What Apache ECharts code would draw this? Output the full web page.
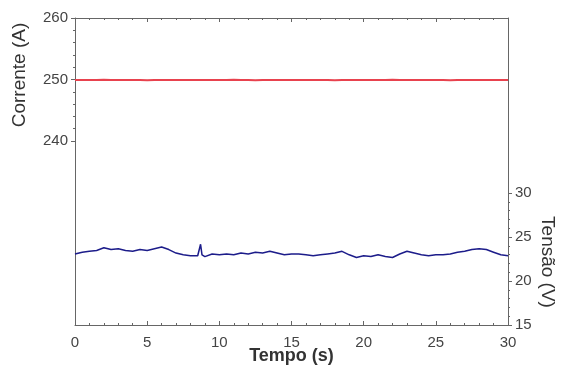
<!DOCTYPE html>
<html>
<head>
<meta charset="utf-8">
<script src="https://cdn.jsdelivr.net/npm/echarts@6/dist/echarts.min.js"></script>
<style>
  html, body { margin: 0; padding: 0; background: #fff; }
  #main { width: 563px; height: 367px; }
</style>
</head>
<body>
<div id="main"></div>
<script>
// tempo (s)
const tempo = [0, 0.5, 1, 1.5, 2, 2.5, 3, 3.5, 4, 4.5, 5, 5.5, 6, 6.5, 7, 7.5, 8, 8.5, 8.7, 8.8, 9,
  9.5, 10, 10.5, 11, 11.5, 12, 12.5, 13, 13.5, 14, 14.5, 15, 15.5, 16, 16.5, 17, 17.5, 18, 18.5,
  19, 19.5, 20, 20.5, 21, 21.5, 22, 22.5, 23, 23.5, 24, 24.5, 25, 25.5, 26, 26.5, 27, 27.5, 28,
  28.5, 29, 29.5, 30];
// tensão (V)
const tensao = [23.1, 23.3, 23.4, 23.5, 23.8, 23.6, 23.7, 23.5, 23.4, 23.6, 23.5, 23.7, 23.9, 23.6, 23.2, 23.0, 22.9, 22.9, 24.2, 23.0, 22.8,
  23.1, 23.0, 23.1, 23.0, 23.2, 23.1, 23.3, 23.2, 23.4, 23.2, 23.0, 23.1, 23.1, 23.0, 22.9, 23.0, 23.1, 23.2, 23.4,
  23.0, 22.7, 22.9, 22.8, 23.0, 22.8, 22.7, 23.1, 23.4, 23.2, 23.0, 22.9, 23.0, 23.0, 23.1, 23.3, 23.4, 23.6, 23.7,
  23.6, 23.3, 23.0, 22.9];
// corrente (A)
const corrente = [249.9, 249.9, 249.9, 249.9, 249.95, 249.9, 249.9, 249.9, 249.9, 249.9, 249.85, 249.9, 249.9, 249.9, 249.9, 249.9, 249.9, 249.9, 249.9, 249.9, 249.9,
  249.9, 249.9, 249.9, 249.95, 249.9, 249.9, 249.85, 249.9, 249.9, 249.9, 249.9, 249.9, 249.9, 249.9, 249.9, 249.9, 249.9, 249.85, 249.9,
  249.9, 249.9, 249.9, 249.9, 249.9, 249.9, 249.95, 249.9, 249.9, 249.9, 249.9, 249.9, 249.9, 249.9, 249.85, 249.9, 249.9, 249.9, 249.9,
  249.9, 249.9, 249.9, 249.9];

const correnteTicks = [240, 260];
const tensaoTicks = [15, 30];

const axisColor = '#666';
const font = 'Liberation Sans';
const labelStyle = { color: '#444', fontSize: 15, fontFamily: font };

var chart = echarts.init(document.getElementById('main'));
chart.setOption({
  animation: false,
  grid: [
    { left: 75, right: 55, top: 18, bottom: 42, outerBoundsMode: 'none' },
    { left: 75, right: 55, top: 18, height: 123, outerBoundsMode: 'none' },
    { left: 75, right: 55, top: 193, bottom: 42, outerBoundsMode: 'none' }
  ],
  xAxis: [
    {
      gridIndex: 0, type: 'value', min: 0, max: 30, interval: 5,
      axisLine: { onZero: false, lineStyle: { color: axisColor, width: 1 } },
      axisTick: { inside: true, length: 4, lineStyle: { color: axisColor } },
      minorTick: { show: true, splitNumber: 5, length: 2, lineStyle: { color: axisColor } },
      axisLabel: Object.assign({ margin: 10 }, labelStyle),
      splitLine: { show: false },
      name: 'Tempo (s)', nameLocation: 'middle', nameGap: 22, nameMoveOverlap: false,
      nameTextStyle: { color: '#333', fontSize: 18, fontFamily: font, fontWeight: 'bold', verticalAlign: 'top' }
    },
    {
      gridIndex: 0, type: 'value', position: 'top', min: 0, max: 30, interval: 5,
      axisLine: { onZero: false, lineStyle: { color: axisColor, width: 1 } },
      axisTick: { inside: true, length: 4, lineStyle: { color: axisColor } },
      minorTick: { show: true, splitNumber: 5, length: 2, lineStyle: { color: axisColor } },
      axisLabel: { show: false }, splitLine: { show: false }
    },
    { gridIndex: 1, type: 'value', min: 0, max: 30, show: false },
    { gridIndex: 2, type: 'value', min: 0, max: 30, show: false }
  ],
  yAxis: [
    {
      gridIndex: 0, type: 'value', min: 210, max: 260, position: 'left',
      axisLine: { show: true, onZero: false, lineStyle: { color: axisColor, width: 1 } },
      axisTick: { show: false }, axisLabel: { show: false }, splitLine: { show: false }
    },
    {
      gridIndex: 0, type: 'value', min: 15, max: 50, position: 'right',
      axisLine: { show: true, onZero: false, lineStyle: { color: axisColor, width: 1 } },
      axisTick: { show: false }, axisLabel: { show: false }, splitLine: { show: false }
    },
    {
      gridIndex: 1, type: 'value', min: correnteTicks[0], max: correnteTicks[1], interval: 10, position: 'left',
      axisLine: { show: false, onZero: false },
      axisTick: { show: true, length: 4, lineStyle: { color: axisColor } },
      minorTick: { show: true, splitNumber: 5, length: 2, lineStyle: { color: axisColor } },
      axisLabel: Object.assign({ margin: 7 }, labelStyle),
      splitLine: { show: false }
    },
    {
      gridIndex: 2, type: 'value', min: tensaoTicks[0], max: tensaoTicks[1], interval: 5, position: 'right',
      axisLine: { show: false, onZero: false },
      axisTick: { show: true, length: 4, lineStyle: { color: axisColor } },
      minorTick: { show: true, splitNumber: 5, length: 2, lineStyle: { color: axisColor } },
      axisLabel: Object.assign({ margin: 7 }, labelStyle),
      splitLine: { show: false }
    }
  ],
  graphic: [
    {
      type: 'text', x: 20, y: 75, rotation: Math.PI / 2, originX: 0, originY: 0,
      style: { text: 'Corrente (A)', fill: '#333', font: '19px "Liberation Sans"', align: 'center', verticalAlign: 'middle' }
    },
    {
      type: 'text', x: 547, y: 262, rotation: -Math.PI / 2, originX: 0, originY: 0,
      style: { text: 'Tensão (V)', fill: '#333', font: '19px "Liberation Sans"', align: 'center', verticalAlign: 'middle' }
    }
  ],
  series: [
    {
      type: 'line', xAxisIndex: 0, yAxisIndex: 0, showSymbol: false,
      data: tempo.map((t, i) => [t, corrente[i]]),
      lineStyle: { color: '#e8424e', width: 2 }
    },
    {
      type: 'line', xAxisIndex: 0, yAxisIndex: 1, showSymbol: false,
      data: tempo.map((t, i) => [t, tensao[i]]),
      lineStyle: { color: '#1c1c8a', width: 1.5 }
    }
  ]
});
</script>
</body>
</html>
